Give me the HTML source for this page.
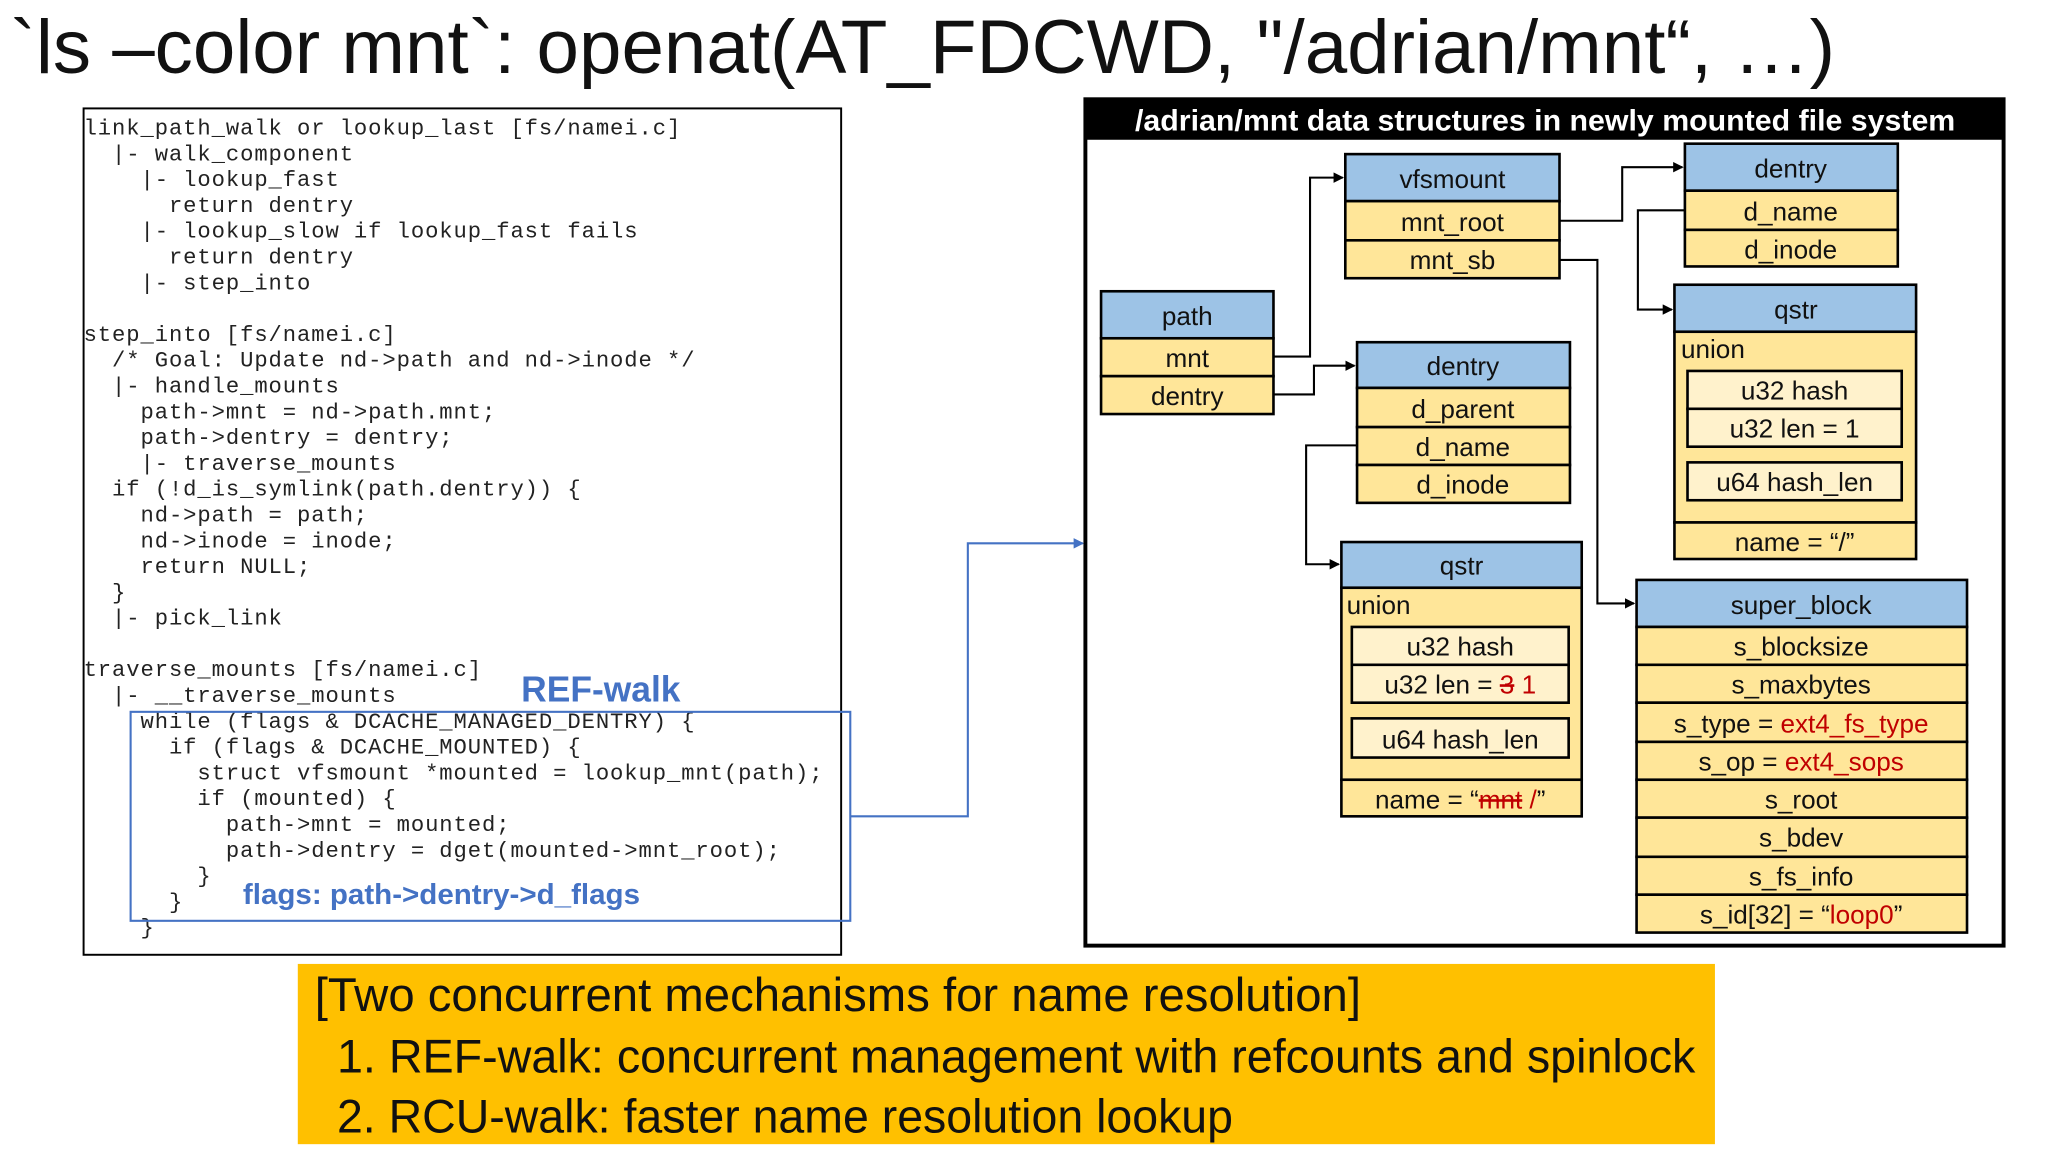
<!DOCTYPE html>
<html><head><meta charset="utf-8"><style>
html,body{margin:0;padding:0;background:#fff;}
svg{display:block}
text{font-family:"Liberation Sans",sans-serif;}
.c text{font-family:"Liberation Mono",monospace;font-size:17px;letter-spacing:0.7px;fill:#222;white-space:pre;}
.l text{font-size:20px;fill:#111;text-anchor:middle;}
.r{fill:#c00000;}
</style></head><body>
<svg width="2048" height="1152" viewBox="0 0 1568 882" xmlns="http://www.w3.org/2000/svg">
<defs><marker id="a" markerWidth="8" markerHeight="8" refX="7" refY="4" orient="auto" markerUnits="userSpaceOnUse"><path d="M0,0 L8,4 L0,8 z" fill="#000"/></marker>
<marker id="b" markerWidth="8" markerHeight="8" refX="7" refY="4" orient="auto" markerUnits="userSpaceOnUse"><path d="M0,0 L8,4 L0,8 z" fill="#4472c4"/></marker></defs>
<rect width="1568" height="882" fill="#fff"/>
<text x="8" y="56" font-size="58" textLength="1397" lengthAdjust="spacingAndGlyphs" fill="#111">`ls –color mnt`: openat(AT_FDCWD, "/adrian/mnt“, …)</text>

<rect x="64" y="83" width="580" height="648" fill="#fff" stroke="#000" stroke-width="1.5"/>
<g class="c">
<text x="64" y="103">link_path_walk or lookup_last [fs/namei.c]</text>
<text x="64" y="122.75">  |- walk_component</text>
<text x="64" y="142.5">    |- lookup_fast</text>
<text x="64" y="162.25">      return dentry</text>
<text x="64" y="182">    |- lookup_slow if lookup_fast fails</text>
<text x="64" y="201.75">      return dentry</text>
<text x="64" y="221.5">    |- step_into</text>
<text x="64" y="261">step_into [fs/namei.c]</text>
<text x="64" y="280.75">  /* Goal: Update nd->path and nd->inode */</text>
<text x="64" y="300.5">  |- handle_mounts</text>
<text x="64" y="320.25">    path->mnt = nd->path.mnt;</text>
<text x="64" y="340">    path->dentry = dentry;</text>
<text x="64" y="359.75">    |- traverse_mounts</text>
<text x="64" y="379.5">  if (!d_is_symlink(path.dentry)) {</text>
<text x="64" y="399.25">    nd->path = path;</text>
<text x="64" y="419">    nd->inode = inode;</text>
<text x="64" y="438.75">    return NULL;</text>
<text x="64" y="458.5">  }</text>
<text x="64" y="478.25">  |- pick_link</text>
<text x="64" y="517.75">traverse_mounts [fs/namei.c]</text>
<text x="64" y="537.5">  |- __traverse_mounts</text>
<text x="64" y="557.25">    while (flags &amp; DCACHE_MANAGED_DENTRY) {</text>
<text x="64" y="577">      if (flags &amp; DCACHE_MOUNTED) {</text>
<text x="64" y="596.75">        struct vfsmount *mounted = lookup_mnt(path);</text>
<text x="64" y="616.5">        if (mounted) {</text>
<text x="64" y="636.25">          path->mnt = mounted;</text>
<text x="64" y="656">          path->dentry = dget(mounted->mnt_root);</text>
<text x="64" y="675.75">        }</text>
<text x="64" y="695.5">      }</text>
<text x="64" y="715.25">    }</text>
</g>
<rect x="100" y="545" width="551" height="160" fill="none" stroke="#4472c4" stroke-width="1.6"/>
<text x="399" y="537" font-size="28" font-weight="bold" fill="#4472c4" textLength="122" lengthAdjust="spacingAndGlyphs">REF-walk</text>
<text x="186" y="692" font-size="22" font-weight="bold" fill="#4472c4" textLength="304" lengthAdjust="spacingAndGlyphs">flags: path-&gt;dentry-&gt;d_flags</text>
<polyline points="651,625 741,625 741,416 829,416" fill="none" stroke="#4472c4" stroke-width="1.6" marker-end="url(#b)"/>

<rect x="831" y="76" width="703" height="648" fill="#fff" stroke="#000" stroke-width="3"/>
<rect x="830" y="75" width="705" height="32" fill="#000"/>
<text x="1183" y="100" font-size="23" font-weight="bold" fill="#fff" text-anchor="middle" textLength="628" lengthAdjust="spacingAndGlyphs">/adrian/mnt data structures in newly mounted file system</text>

<g stroke="#000" stroke-width="2">
<rect x="843" y="223" width="132" height="36" fill="#9dc3e6"/>
<rect x="843" y="259" width="132" height="29" fill="#ffe699"/>
<rect x="843" y="288" width="132" height="29" fill="#ffe699"/>
<rect x="1030" y="118" width="164" height="36" fill="#9dc3e6"/>
<rect x="1030" y="154" width="164" height="30" fill="#ffe699"/>
<rect x="1030" y="184" width="164" height="29" fill="#ffe699"/>
<rect x="1290" y="110" width="163" height="36" fill="#9dc3e6"/>
<rect x="1290" y="146" width="163" height="30" fill="#ffe699"/>
<rect x="1290" y="176" width="163" height="28" fill="#ffe699"/>
<rect x="1039" y="262" width="163" height="35" fill="#9dc3e6"/>
<rect x="1039" y="297" width="163" height="30" fill="#ffe699"/>
<rect x="1039" y="327" width="163" height="29" fill="#ffe699"/>
<rect x="1039" y="356" width="163" height="29" fill="#ffe699"/>
<rect x="1282" y="218" width="185" height="36" fill="#9dc3e6"/>
<rect x="1282" y="254" width="185" height="146" fill="#ffe699"/>
<rect x="1292" y="284" width="164" height="29" fill="#fff2cc"/>
<rect x="1292" y="313" width="164" height="29" fill="#fff2cc"/>
<rect x="1292" y="354" width="164" height="29" fill="#fff2cc"/>
<rect x="1282" y="400" width="185" height="28" fill="#ffe699"/>
<rect x="1027" y="415" width="184" height="35" fill="#9dc3e6"/>
<rect x="1027" y="450" width="184" height="147" fill="#ffe699"/>
<rect x="1035" y="480" width="166" height="29" fill="#fff2cc"/>
<rect x="1035" y="509" width="166" height="29" fill="#fff2cc"/>
<rect x="1035" y="550" width="166" height="30" fill="#fff2cc"/>
<rect x="1027" y="597" width="184" height="28" fill="#ffe699"/>
<rect x="1253" y="444" width="253" height="36" fill="#9dc3e6"/>
<rect x="1253" y="480" width="253" height="29" fill="#ffe699"/>
<rect x="1253" y="509" width="253" height="29" fill="#ffe699"/>
<rect x="1253" y="538" width="253" height="30" fill="#ffe699"/>
<rect x="1253" y="568" width="253" height="29" fill="#ffe699"/>
<rect x="1253" y="597" width="253" height="29" fill="#ffe699"/>
<rect x="1253" y="626" width="253" height="30" fill="#ffe699"/>
<rect x="1253" y="656" width="253" height="29" fill="#ffe699"/>
<rect x="1253" y="685" width="253" height="29" fill="#ffe699"/>
</g>

<g fill="none" stroke="#000" stroke-width="1.6">
<polyline points="975,273 1003,273 1003,136 1028,136" marker-end="url(#a)"/>
<polyline points="975,302 1006,302 1006,280 1037,280" marker-end="url(#a)"/>
<polyline points="1194,169 1242,169 1242,128 1288,128" marker-end="url(#a)"/>
<polyline points="1194,199 1223,199 1223,462 1251,462" marker-end="url(#a)"/>
<polyline points="1290,161 1254,161 1254,237 1280,237" marker-end="url(#a)"/>
<polyline points="1039,341 1000,341 1000,432 1025,432" marker-end="url(#a)"/>
</g>

<g class="l">
<text x="909" y="249">path</text>
<text x="909" y="281">mnt</text>
<text x="909" y="310">dentry</text>
<text x="1112" y="144">vfsmount</text>
<text x="1112" y="177">mnt_root</text>
<text x="1112" y="206">mnt_sb</text>
<text x="1371" y="136">dentry</text>
<text x="1371" y="169">d_name</text>
<text x="1371" y="198">d_inode</text>
<text x="1120" y="287">dentry</text>
<text x="1120" y="320">d_parent</text>
<text x="1120" y="349">d_name</text>
<text x="1120" y="378">d_inode</text>
<text x="1375" y="244">qstr</text>
<text x="1287" y="274" style="text-anchor:start">union</text>
<text x="1374" y="306">u32  hash</text>
<text x="1374" y="335">u32 len = 1</text>
<text x="1374" y="376">u64 hash_len</text>
<text x="1374" y="422">name = “/”</text>
<text x="1119" y="440">qstr</text>
<text x="1031" y="470" style="text-anchor:start">union</text>
<text x="1118" y="502">u32  hash</text>
<text x="1118" y="531">u32 len = <tspan class="r" text-decoration="line-through">3</tspan> <tspan class="r">1</tspan></text>
<text x="1118" y="573">u64 hash_len</text>
<text x="1118" y="619">name = “<tspan class="r" text-decoration="line-through">mnt</tspan> <tspan class="r">/</tspan>”</text>
<text x="1379" y="470">super_block</text>
<text x="1379" y="502">s_blocksize</text>
<text x="1379" y="531">s_maxbytes</text>
<text x="1379" y="561">s_type = <tspan class="r">ext4_fs_type</tspan></text>
<text x="1379" y="590">s_op = <tspan class="r">ext4_sops</tspan></text>
<text x="1379" y="619">s_root</text>
<text x="1379" y="648">s_bdev</text>
<text x="1379" y="678">s_fs_info</text>
<text x="1379" y="707">s_id[32] = “<tspan class="r">loop0</tspan>”</text>
</g>

<rect x="228" y="738" width="1085" height="138" fill="#ffc000"/>
<text x="241" y="774" font-size="36" fill="#111" textLength="801" lengthAdjust="spacingAndGlyphs">[Two concurrent mechanisms for name resolution]</text>
<text x="258" y="821" font-size="36" fill="#111" textLength="1040" lengthAdjust="spacingAndGlyphs">1. REF-walk: concurrent management with refcounts and spinlock</text>
<text x="258" y="867" font-size="36" fill="#111" textLength="686" lengthAdjust="spacingAndGlyphs">2. RCU-walk: faster name resolution lookup</text>
</svg>
</body></html>
